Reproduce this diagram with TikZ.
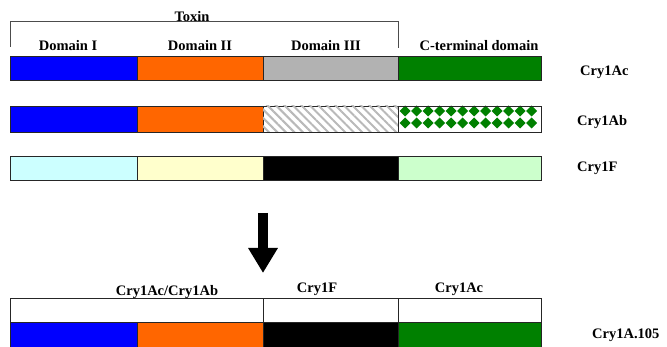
\documentclass[tikz,border=0pt]{standalone}
\usepackage{fontspec}
\setmainfont{Liberation Serif}
\usetikzlibrary{positioning, arrows.meta, patterns.meta}
\definecolor{dblue}{RGB}{0,0,255}
\definecolor{dorange}{RGB}{255,102,0}
\definecolor{dgray}{RGB}{178,178,178}
\definecolor{dgreen}{RGB}{0,128,0}
\definecolor{lcyan}{RGB}{204,255,255}
\definecolor{lyellow}{RGB}{255,255,204}
\definecolor{lgreen}{RGB}{204,255,204}
\definecolor{hatchgray}{RGB}{185,185,185}

\begin{document}
\begin{tikzpicture}
  [ x=1pt, y=-1pt,
    seg/.style={rectangle, draw=black!85, line width=0.9pt, inner sep=0pt, outer sep=0pt, minimum height=24pt, anchor=north west},
    lbl/.style={inner sep=0pt, font=\fontsize{14.5}{17}\selectfont\bfseries},
    hatch/.style={fill=white, postaction={pattern={Lines[angle=-45, distance=6pt, line width=2pt]}, pattern color=hatchgray}},
    dot/.style={fill=dgreen},
    line1/.style={-, line width=1pt, black!70},
    bigarrow/.style={-{Triangle[length=25pt, width=28pt]}, line width=10pt, black}
  ]

  \fill[white] (0,0) rectangle (667,347);
  \useasboundingbox (0,0) rectangle (667,347);

  % Cry1Ac
  \node[seg, fill=dblue, minimum width=127pt] (acone) at (10,56) {};
  \node[seg, fill=dorange, minimum width=126pt, right=0pt of acone] (actwo) {};
  \node[seg, fill=dgray, minimum width=135pt, right=0pt of actwo] (acthree) {};
  \node[seg, fill=dgreen, minimum width=143pt, right=0pt of acthree] (acfour) {};

  % Cry1Ab
  \node[seg, fill=dblue, minimum width=127pt, minimum height=26pt] (abone) at (10,106) {};
  \node[seg, fill=dorange, minimum width=126pt, minimum height=26pt, right=0pt of abone] (abtwo) {};
  \node[seg, hatch, minimum width=135pt, minimum height=26pt, right=0pt of abtwo] (abthree) {};
  \node[seg, fill=white, minimum width=143pt, minimum height=26pt, right=0pt of abthree] (abfour) {};
  \begin{scope}
    \clip (abfour.north west) rectangle (abfour.south east);
    \foreach \i in {0,...,11}
      \foreach \j in {111,123}
        \fill[dot] (405+11.5*\i,\j-5.5) -- ++(5.5,5.5) -- ++(-5.5,5.5) -- ++(-5.5,-5.5) -- cycle;
  \end{scope}
  \draw[draw=black!85, line width=0.9pt] (abfour.north west) rectangle (abfour.south east);

  % Cry1F
  \node[seg, fill=lcyan, minimum width=127pt] (fone) at (10,156) {};
  \node[seg, fill=lyellow, minimum width=126pt, right=0pt of fone] (ftwo) {};
  \node[seg, fill=black, minimum width=135pt, right=0pt of ftwo] (fthree) {};
  \node[seg, fill=lgreen, minimum width=143pt, right=0pt of fthree] (ffour) {};

  % Cry1A.105
  \node[seg, fill=white, minimum width=253pt] (topone) at (10,298) {};
  \node[seg, fill=white, minimum width=135pt, right=0pt of topone] (toptwo) {};
  \node[seg, fill=white, minimum width=143pt, right=0pt of toptwo] (topthree) {};
  \node[seg, fill=dblue, minimum width=127pt, minimum height=28pt] (newone) at (10,322) {};
  \node[seg, fill=dorange, minimum width=126pt, minimum height=28pt, right=0pt of newone] (newtwo) {};
  \node[seg, fill=black, minimum width=135pt, minimum height=28pt, right=0pt of newtwo] (newthree) {};
  \node[seg, fill=dgreen, minimum width=143pt, minimum height=28pt, right=0pt of newthree] (newfour) {};

  % labels
  \node[lbl] (toxin) at (192,17) {Toxin};
  \node[lbl] (domone) at (68,46) {Domain I};
  \node[lbl] (domtwo) at (200,46) {Domain II};
  \node[lbl] (domthree) at (326,46) {Domain III};
  \node[lbl] (domfour) at (479,46) {C-terminal domain};
  \node[lbl, anchor=west] (nameac) at (580,72) {Cry1Ac};
  \node[lbl, anchor=west] (nameab) at (577,122) {Cry1Ab};
  \node[lbl, anchor=west] (namef) at (577,168) {Cry1F};
  \node[lbl] (partone) at (167,292) {Cry1Ac/Cry1Ab};
  \node[lbl] (parttwo) at (317,289) {Cry1F};
  \node[lbl] (partthree) at (459,289) {Cry1Ac};
  \node[lbl, anchor=west] (namenew) at (592,335) {Cry1A.105};

  % toxin bracket
  \coordinate (brleft) at (10,47);
  \coordinate (brright) at (398,48);
  \draw [line1] (brleft) -- ++(0,-25) -| (brright);

  % arrow
  \coordinate (arrtop) at (263,213);
  \coordinate (arrtip) at (263,273);
  \draw [bigarrow] (arrtop) -- (arrtip);
\end{tikzpicture}
\end{document}
